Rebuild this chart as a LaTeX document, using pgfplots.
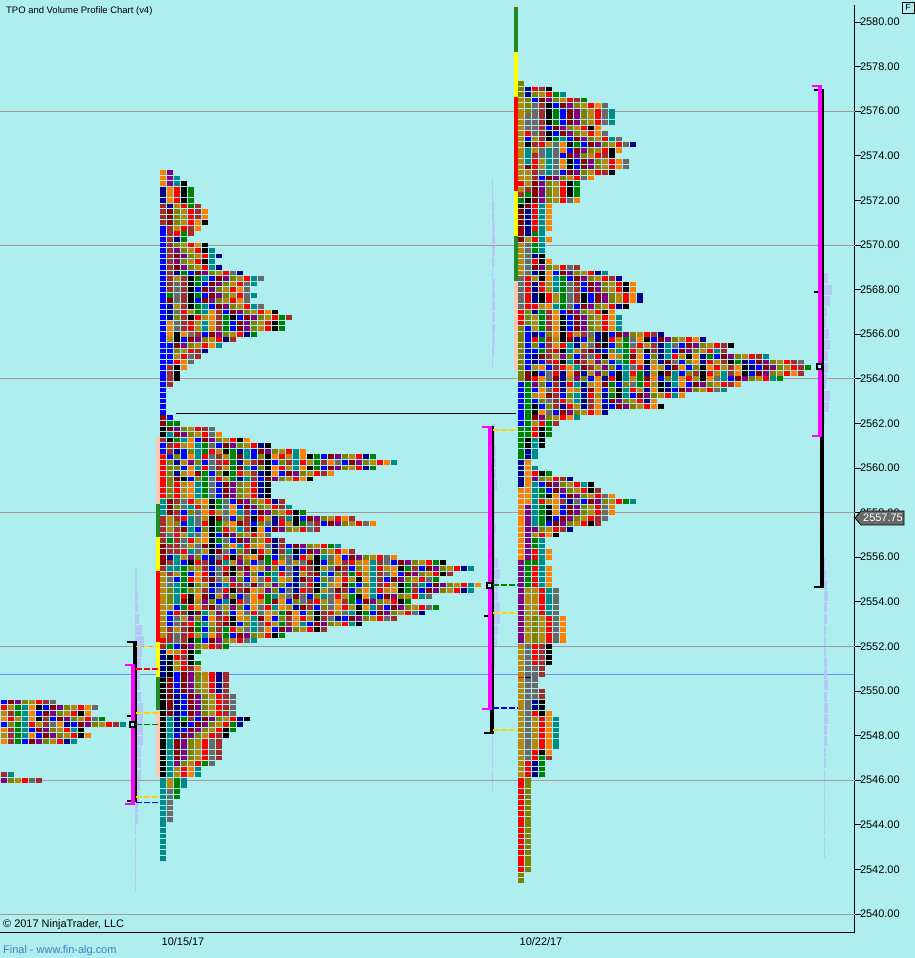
\documentclass[border=0pt]{standalone}
\usepackage{fontspec}
\setmainfont{Liberation Sans}
\usepackage{pgfplots}
\usepackage{pgfplotstable}
\pgfplotsset{compat=1.18}

\definecolor{bg}{HTML}{AFEEEE}
\definecolor{tOrange}{HTML}{FF8000}
\definecolor{tPurple}{HTML}{800080}
\definecolor{tGold}{HTML}{B8860B}
\definecolor{tGray}{HTML}{696969}
\definecolor{tRed}{HTML}{FF0000}
\definecolor{tBlue}{HTML}{0000FF}
\definecolor{tGreen}{HTML}{008000}
\definecolor{tBlack}{HTML}{000000}
\definecolor{tBrown}{HTML}{A52A2A}
\definecolor{tDarkred}{HTML}{8B0000}
\definecolor{tNavy}{HTML}{00008B}
\definecolor{tTeal}{HTML}{008B8B}
\definecolor{tOlive}{HTML}{808000}
\definecolor{peach}{HTML}{FFC8B0}
\definecolor{forest}{HTML}{228B22}
\definecolor{yel}{HTML}{FFFF00}
\definecolor{dashgold}{HTML}{FFD700}
\definecolor{magent}{HTML}{FF00FF}
\definecolor{volblue}{HTML}{B4C8F8}
\definecolor{gridc}{HTML}{A89A9A}
\definecolor{bluel}{HTML}{7088F0}
\definecolor{linkc}{HTML}{3A80C0}

% rows: price, number of cells
\pgfplotstableread{
p n
2549.5 8
2549.25 14
2549 13
2548.75 15
2548.5 18
2548.25 12
2548 13
2547.75 11
2546.25 2
2546 6
}\tabS
\pgfplotstableread{
p n
2573.25 2
2573 3
2572.75 4
2572.5 5
2572.25 5
2572 5
2571.75 6
2571.5 7
2571.25 7
2571 7
2570.75 6
2570.5 5
2570.25 4
2570 7
2569.75 8
2569.5 9
2569.25 8
2569 9
2568.75 12
2568.5 15
2568.25 14
2568 13
2567.75 14
2567.5 13
2567.25 15
2567 17
2566.75 19
2566.5 18
2566.25 18
2566 14
2565.75 11
2565.5 9
2565.25 7
2565 6
2564.75 5
2564.5 4
2564.25 3
2564 3
2563.75 2
2563.5 1
2563.25 1
2563 1
2562.75 1
2562.5 1
2562.25 2
2562 3
2561.75 8
2561.5 9
2561.25 13
2561 16
2560.75 21
2560.5 31
2560.25 34
2560 31
2559.75 25
2559.5 22
2559.25 16
2559 16
2558.75 16
2558.5 18
2558.25 19
2558 21
2557.75 28
2557.5 31
2557.25 23
2557 16
2556.75 18
2556.5 26
2556.25 28
2556 34
2555.75 41
2555.5 45
2555.25 42
2555 40
2554.75 46
2554.5 45
2554.25 39
2554 36
2553.75 40
2553.5 38
2553.25 34
2553 29
2552.75 24
2552.5 18
2552.25 14
2552 10
2551.75 6
2551.5 5
2551.25 6
2551 6
2550.75 10
2550.5 10
2550.25 10
2550 10
2549.75 11
2549.5 11
2549.25 11
2549 11
2548.75 13
2548.5 12
2548.25 11
2548 10
2547.75 9
2547.5 9
2547.25 9
2547 9
2546.75 8
2546.5 6
2546.25 6
2546 4
2545.75 4
2545.5 3
2545.25 3
2545 2
2544.75 2
2544.5 2
2544.25 2
2544 1
2543.75 1
2543.5 1
2543.25 1
2543 1
2542.75 1
2542.5 1
}\tabA
\pgfplotstableread{
p n
2577.25 1
2577 5
2576.75 7
2576.5 10
2576.25 13
2576 14
2575.75 14
2575.5 14
2575.25 12
2575 13
2574.75 15
2574.5 17
2574.25 15
2574 14
2573.75 16
2573.5 16
2573.25 14
2573 11
2572.75 9
2572.5 9
2572.25 9
2572 9
2571.75 5
2571.5 5
2571.25 5
2571 5
2570.75 5
2570.5 4
2570.25 5
2570 4
2569.75 4
2569.5 4
2569.25 5
2569 9
2568.75 13
2568.5 15
2568.25 17
2568 17
2567.75 18
2567.5 18
2567.25 16
2567 14
2566.75 15
2566.5 15
2566.25 15
2566 21
2565.75 27
2565.5 31
2565.25 30
2565 36
2564.75 41
2564.5 42
2564.25 41
2564 38
2563.75 32
2563.5 30
2563.25 24
2563 20
2562.75 21
2562.5 13
2562.25 9
2562 6
2561.75 5
2561.5 5
2561.25 4
2561 4
2560.75 3
2560.5 3
2560.25 2
2560 3
2559.75 5
2559.5 8
2559.25 11
2559 12
2558.75 14
2558.5 17
2558.25 14
2558 14
2557.75 13
2557.5 12
2557.25 8
2557 6
2556.75 4
2556.5 4
2556.25 5
2556 5
2555.75 4
2555.5 5
2555.25 5
2555 5
2554.75 5
2554.5 6
2554.25 6
2554 6
2553.75 6
2553.5 6
2553.25 7
2553 7
2552.75 7
2552.5 7
2552.25 7
2552 5
2551.75 5
2551.5 5
2551.25 5
2551 4
2550.75 4
2550.5 3
2550.25 3
2550 4
2549.75 4
2549.5 4
2549.25 4
2549 5
2548.75 6
2548.5 6
2548.25 6
2548 6
2547.75 6
2547.5 6
2547.25 5
2547 5
2546.75 4
2546.5 4
2546.25 4
2546 2
2545.75 2
2545.5 2
2545.25 2
2545 2
2544.75 2
2544.5 2
2544.25 2
2544 2
2543.75 2
2543.5 2
2543.25 2
2543 2
2542.75 2
2542.5 2
2542.25 2
2542 2
2541.75 1
2541.5 1
}\tabB

% volume histograms: price, width in px
\pgfplotstableread{
p w
2555.25 2
2554.75 2
2554.25 3
2553.75 3
2553.25 4
2552.75 7
2552.25 9
2551.75 7
2551.25 6
2550.75 5
2550.25 5
2549.75 6
2549.25 8
2548.75 8
2548.25 8
2547.75 8
2547.25 6
2546.75 6
2546.25 6
2545.75 5
2545.25 4
2544.75 3
2544.25 3
2543.75 1
2543.25 1
2542.75 1
2542.25 1
2541.75 1
2541.25 1
}\volA
\pgfplotstableread{
p w
2572.75 1
2572.25 1
2571.75 2
2571.25 2
2570.75 3
2570.25 3
2569.75 3
2569.25 2
2568.75 1
2568.25 3
2567.75 3
2567.25 3
2566.75 3
2566.25 3
2565.75 3
2565.25 2
2564.75 1
2561.75 3
2561.25 3
2560.75 4
2560.25 4
2559.75 4
2559.25 5
2558.75 3
2558.25 3
2557.75 3
2557.25 4
2556.75 3
2556.25 3
2555.75 6
2555.25 8
2554.75 6
2554.25 6
2553.75 8
2553.25 8
2552.75 6
2552.25 5
2551.75 3
2551.25 3
2550.75 2
2550.25 1
2549.75 1
2549.25 1
2548.75 1
2548.25 1
2547.75 1
2547.25 1
2546.75 1
2546.25 1
2545.75 1
}\volB
\pgfplotstableread{
p w
2568.5 4
2568 8
2567.5 6
2567 3
2566.5 2
2566 5
2565.5 6
2565 4
2564.5 4
2564 3
2563.75 2
2563.25 6
2562.75 5
2562.25 1
2555.75 1
2555.25 2
2554.75 3
2554.25 4
2553.75 3
2553.25 3
2552.75 2
2552.25 2
2551.75 2
2551.25 3
2550.75 3
2550.25 4
2549.75 3
2549.25 4
2548.75 4
2548.25 3
2547.75 3
2547.25 2
2546.75 2
2546.25 1
2545.75 1
2545.25 1
2544.75 1
2544.25 1
2543.75 1
2543.25 1
2542.75 1
}\volC

% cells counted from the right end of a row: colour, dash off, phase, table, left edge
\newcommand{\tpolayer}[5]{%
  \addplot[#1, line width=4.7bp, dash pattern=on 6bp off #2bp, dash phase=#3bp, no markers,
    quiver={u={-7*\thisrow{n}+1}, v=0}]
    table[x expr={#5+7*\thisrow{n}-1}, y=p]{#4};
}
% cells counted from the left, for one band of rows:
% phase, colour, period off, table, left edge, low price, high price
\newcommand{\rawband}[7]{%
  \addplot[#2, line width=4.7bp, dash pattern=on 6bp off #3bp, dash phase=#1bp, no markers,
    restrict y to domain=#6:#7,
    quiver={u={7*\thisrow{n}-1}, v=0}]
    table[x expr={#5}, y=p]{#4};
}
% colour, period, start, step, table, left edge, low, high, band shift
\newcommand{\bandlayer}[9]{%
  \pgfmathtruncatemacro\offv{7*#2-6}%
  \pgfmathtruncatemacro\phv{7*mod(#3+#4*#9,#2)}%
  \edef\doband{\noexpand\rawband{\phv}{#1}{\offv}}%
  \doband{#5}{#6}{#7}{#8}%
}
\newcommand{\tpoband}[5]{% table, left edge, low, high, shift
  \bandlayer{tGray}{2}{1}{1}{#1}{#2}{#3}{#4}{#5}
  \bandlayer{tNavy}{3}{1}{1}{#1}{#2}{#3}{#4}{#5}
  \bandlayer{tOrange}{4}{2}{3}{#1}{#2}{#3}{#4}{#5}
  \bandlayer{tBrown}{5}{0}{2}{#1}{#2}{#3}{#4}{#5}
  \bandlayer{tBlack}{6}{3}{5}{#1}{#2}{#3}{#4}{#5}
  \bandlayer{tTeal}{7}{5}{3}{#1}{#2}{#3}{#4}{#5}
}
\newcommand{\tpotop}[2]{%
  \tpolayer{tPurple}{50}{21}{#1}{#2}
  \tpolayer{tGold}{57}{42}{#1}{#2}
  \tpolayer{tBlue}{64}{21}{#1}{#2}
  \tpolayer{tRed}{71}{63}{#1}{#2}
  \tpolayer{tOlive}{78}{56}{#1}{#2}
  \tpolayer{tDarkred}{85}{49}{#1}{#2}
}
% first two columns, read cell by cell: x, top price, cells
\newcommand{\tporuns}[2]{%
  \addplot[#1, line width=6bp, dash pattern=on 4.7bp off 0.875bp, no markers,
    quiver={u=0, v={-0.25*\thisrow{n}}}]
    table[row sep=\\, x expr={\thisrow{x}+3}, y expr={\thisrow{p}+0.105}]{x p n\\ #2};
}
\newcommand{\volhist}[2]{%
  \addplot[volblue, line width=10bp, no markers, quiver={u={\thisrow{w}}, v=0}]
    table[x expr={#2}, y=p]{#1};
}
\newcommand{\sidebar}[5]{% colour, x, width, top, bottom
  \addplot[#1, line width=#3bp, no markers] coordinates {(#2,#4)(#2,#5)};
}
\newcommand{\hseg}[5]{% colour, x1, x2, price, width
  \addplot[#1, line width=#5bp, no markers] coordinates {(#2,#4)(#3,#4)};
}
\newcommand{\dashlvl}[4]{% colour, x1, x2, price
  \addplot[#1, line width=1.7bp, dash pattern=on 6bp off 2bp, no markers] coordinates {(#2,#4)(#3,#4)};
}
\newcommand{\pocmark}[2]{%
  \addplot[only marks, mark=square*, mark size=2.5bp, mark options={solid, draw=black, fill=bg, line width=2bp}]
    coordinates {(#1,#2)};
}

\begin{document}
\begin{tikzpicture}
\fill[bg] (0,0) rectangle (915bp,958bp);
\begin{axis}[
  at={(0bp,26bp)}, anchor=south west,
  width=854.5bp, height=927bp, scale only axis, clip=false,
  xmin=0, xmax=854.5, ymin=2539.193, ymax=2580.762,
  axis x line*=bottom, axis y line*=right,
  axis line style={black, line width=0.9bp},
  tick align=outside, major tick length=6bp,
  tick style={black, line width=0.8bp},
  ytick={2540,2542,...,2580},
  yticklabel style={/pgf/number format/fixed, /pgf/number format/fixed zerofill,
    /pgf/number format/precision=2, /pgf/number format/1000 sep={},
    /pgf/number format/assume math mode=true,
    font=\fontsize{11}{13}\selectfont, xshift=-4bp},
  xtick={183,541}, xticklabels={10/15/17,10/22/17},
  x tick style={draw=none},
  xticklabel style={font=\fontsize{11}{13}\selectfont, yshift=4bp},
  extra y ticks={2540,2546,2552,2558,2564,2570,2576},
  extra y tick labels={},
  extra y tick style={grid=major, major grid style={gridc, line width=0.9bp}},
]
\hseg{bluel}{0}{854}{2550.75}{0.9}

% volume histograms
\volhist{\volA}{135}
\volhist{\volB}{492}
\volhist{\volC}{824}

% coloured bars left of the profiles
\sidebar{peach}{158}{4}{2561.39}{2558.39}
\sidebar{forest}{158}{4}{2558.39}{2556.91}
\sidebar{yel}{158}{4}{2556.91}{2555.38}
\sidebar{tRed}{158}{4}{2555.38}{2552.21}
\sidebar{yel}{158}{4}{2552.21}{2550.64}
\sidebar{forest}{158}{4}{2550.64}{2549.15}
\sidebar{peach}{158}{4}{2549.15}{2546.16}
\sidebar{peach}{516}{4}{2580.76}{2580.67}
\sidebar{forest}{516}{4}{2580.67}{2578.65}
\sidebar{yel}{516}{4}{2578.65}{2576.64}
\sidebar{tRed}{516}{4}{2576.64}{2572.42}
\sidebar{yel}{516}{4}{2572.42}{2570.40}
\sidebar{forest}{516}{4}{2570.40}{2568.39}
\sidebar{peach}{516}{4}{2568.39}{2564.39}

% TPO rows
\tpolayer{tGreen}{1}{0}{\tabS}{1}
\tpolayer{tGreen}{1}{0}{\tabA}{160}
\tpolayer{tGreen}{1}{0}{\tabB}{518}

\tpoband{\tabS}{1}{2547.6}{2549.6}{2}
\tpoband{\tabS}{1}{2545.9}{2546.4}{5}

\tpoband{\tabA}{160}{2571.125}{2573.5}{0}
\tpoband{\tabA}{160}{2568.625}{2571.125}{3}
\tpoband{\tabA}{160}{2566.125}{2568.625}{1}
\tpoband{\tabA}{160}{2563.625}{2566.125}{5}
\tpoband{\tabA}{160}{2561.125}{2563.625}{2}
\tpoband{\tabA}{160}{2558.625}{2561.125}{6}
\tpoband{\tabA}{160}{2556.125}{2558.625}{4}
\tpoband{\tabA}{160}{2553.625}{2556.125}{7}
\tpoband{\tabA}{160}{2551.125}{2553.625}{1}
\tpoband{\tabA}{160}{2548.625}{2551.125}{3}
\tpoband{\tabA}{160}{2546.125}{2548.625}{6}
\tpoband{\tabA}{160}{2542}{2546.125}{2}

\tpoband{\tabB}{518}{2574.625}{2577.5}{1}
\tpoband{\tabB}{518}{2572.125}{2574.625}{4}
\tpoband{\tabB}{518}{2569.625}{2572.125}{2}
\tpoband{\tabB}{518}{2567.125}{2569.625}{6}
\tpoband{\tabB}{518}{2564.625}{2567.125}{3}
\tpoband{\tabB}{518}{2562.125}{2564.625}{5}
\tpoband{\tabB}{518}{2559.625}{2562.125}{0}
\tpoband{\tabB}{518}{2557.125}{2559.625}{7}
\tpoband{\tabB}{518}{2554.625}{2557.125}{2}
\tpoband{\tabB}{518}{2552.125}{2554.625}{4}
\tpoband{\tabB}{518}{2549.625}{2552.125}{1}
\tpoband{\tabB}{518}{2547.125}{2549.625}{6}
\tpoband{\tabB}{518}{2541}{2547.125}{3}

\tpotop{\tabS}{1}
\tpotop{\tabA}{160}
\tpotop{\tabB}{518}

\tporuns{tOrange}{160 2573.25 3\\ 167 2572.5 3\\ 167 2566.5 3\\ 167 2551.75 1\\ 518 2559 13\\ 525 2560.25 8\\}
\tporuns{tNavy}{160 2572.5 3\\ 160 2551.75 5\\ 167 2571.75 1\\ 167 2567.25 3\\ 167 2556 1\\ 518 2560.25 5\\ 525 2577 2\\ 525 2571.5 5\\ 525 2560.75 2\\}
\tporuns{tBrown}{160 2571.75 4\\ 160 2561.25 1\\ 160 2557.75 5\\ 160 2555.5 1\\ 160 2552 1\\ 167 2570.75 12\\ 167 2564.5 4\\ 167 2561 2\\ 167 2556.5 2\\ 167 2555.75 1\\ 167 2555.25 1\\ 167 2552.75 3\\ 518 2572.25 1\\ 525 2572.5 1\\}
\tporuns{tBlue}{160 2570.75 34\\ 160 2561 2\\ 167 2565.5 4\\ 167 2562.25 1\\ 167 2560.5 1\\ 167 2553.5 3\\ 518 2563.75 8\\ 525 2574.75 1\\ 525 2566.25 8\\}
\tporuns{tDarkred}{160 2562.25 2\\ 160 2556.5 4\\ 167 2571.5 3\\ 167 2567.5 1\\ 167 2561.75 1\\ 167 2558.5 3\\ 167 2550.5 7\\ 518 2571.5 6\\ 525 2573.5 1\\ 525 2571.75 1\\ 525 2564.25 2\\}
\tporuns{tBlack}{160 2561.75 2\\ 160 2550.5 18\\ 167 2561.25 1\\ 167 2551.5 4\\ 518 2571.75 1\\ 525 2574.5 1\\ 525 2572 1\\ 525 2561.25 2\\}
\tporuns{tRed}{160 2560.5 8\\ 160 2552.25 1\\ 518 2572.75 1\\ 518 2567 3\\ 518 2546 17\\ 525 2575 1\\ 525 2568.5 6\\ 525 2546.75 3\\}
\tporuns{tTeal}{160 2558.5 3\\ 160 2546 15\\ 167 2561.5 1\\ 167 2555.5 1\\ 167 2548.75 11\\ 525 2574.25 3\\}
\tporuns{tGold}{160 2555.25 12\\ 167 2565.75 1\\ 167 2557.75 3\\ 167 2553.75 1\\ 167 2546 2\\ 518 2576.5 15\\ 518 2572.5 1\\ 518 2570 6\\ 518 2552 24\\ 525 2573.25 3\\ 525 2570.25 1\\ 525 2554.5 10\\}
\tporuns{tGreen}{167 2567.75 1\\ 167 2562 1\\ 167 2556.75 1\\ 167 2552 1\\ 518 2572 1\\ 518 2561.75 6\\ 525 2572.25 1\\ 525 2563.75 10\\ 525 2555.75 5\\}
\tporuns{tOlive}{167 2560.25 7\\ 167 2554.5 3\\ 518 2577.25 3\\ 518 2566.25 10\\ 518 2541.75 2\\ 525 2576.5 3\\ 525 2567 3\\ 525 2546 17\\}
\tporuns{tGray}{167 2557 1\\ 167 2555 2\\ 167 2545.5 6\\ 518 2568.5 6\\ 525 2575.75 3\\ 525 2570 6\\ 525 2552 21\\}
\tporuns{tPurple}{167 2573.25 3\\ 518 2555.75 15\\ 525 2558.25 10\\}

% link between the two sessions
\hseg{black}{176}{516}{2562.45}{0.9}

% first session ranges
\sidebar{black}{135}{4}{2552.2}{2545.08}
\hseg{black}{127}{137}{2552.2}{2}
\hseg{black}{127}{137}{2545.08}{2}
\sidebar{magent}{133}{4}{2551.2}{2544.9}
\hseg{magent}{125}{135}{2551.17}{2}
\hseg{magent}{125}{135}{2544.93}{2}
\hseg{black}{127}{131}{2548.9}{2}
\dashlvl{dashgold}{136}{158}{2552}
\dashlvl{tRed}{136}{158}{2551}
\dashlvl{dashgold}{136}{158}{2549}
\dashlvl{tGreen}{136}{158}{2548.5}
\dashlvl{dashgold}{136}{158}{2545.25}
\dashlvl{tBlue}{136}{158}{2545}
\pocmark{132.5}{2548.5}

% second session ranges
\sidebar{black}{492}{4}{2561.88}{2548.12}
\hseg{black}{484}{494}{2548.12}{2}
\sidebar{magent}{490}{4}{2561.88}{2549.15}
\hseg{magent}{482}{492}{2561.85}{2}
\hseg{magent}{482}{492}{2549.18}{2}
\hseg{black}{484}{488}{2553.36}{2}
\dashlvl{dashgold}{493}{518}{2561.7}
\dashlvl{tGreen}{493}{518}{2554.75}
\dashlvl{dashgold}{493}{518}{2553.5}
\dashlvl{tBlue}{493}{518}{2549.25}
\dashlvl{dashgold}{493}{518}{2548.25}
\pocmark{489.5}{2554.75}

% third session ranges
\sidebar{black}{822}{4}{2576.93}{2554.66}
\hseg{black}{814}{824}{2576.93}{2}
\hseg{black}{814}{824}{2554.66}{2}
\sidebar{magent}{820}{4}{2577.17}{2561.39}
\hseg{magent}{812}{822}{2577.14}{2}
\hseg{magent}{812}{822}{2561.42}{2}
\hseg{black}{814}{818}{2567.9}{2}
\pocmark{819.5}{2564.55}
\end{axis}

\begin{scope}[x=1bp,y=-1bp,yshift=958bp]
\node[anchor=west, inner sep=0pt, font=\fontsize{9.5}{11}\selectfont] at (6,11) {TPO and Volume Profile Chart (v4)};
\node[anchor=west, inner sep=0pt, font=\fontsize{11}{13}\selectfont] at (3,925) {© 2017 NinjaTrader, LLC};
\node[anchor=west, inner sep=0pt, text=linkc, font=\fontsize{11}{13}\selectfont] at (3,951) {Final - www.fin-alg.com};
\draw[black, line width=0.8bp] (902,2) rectangle (914,13);
\node[inner sep=0pt, font=\fontsize{9}{11}\selectfont] at (908,7.5) {F};
\draw[black, fill=tGray, line width=0.8bp] (855,518) -- (861,511) -- (904,511) -- (904,525) -- (861,525) -- cycle;
\node[anchor=west, inner sep=0pt, text=white, font=\fontsize{11}{13}\selectfont] at (863,518) {2557.75};
\end{scope}
\pgfresetboundingbox
\path[use as bounding box] (0,0) rectangle (915bp,958bp);
\end{tikzpicture}
\end{document}
